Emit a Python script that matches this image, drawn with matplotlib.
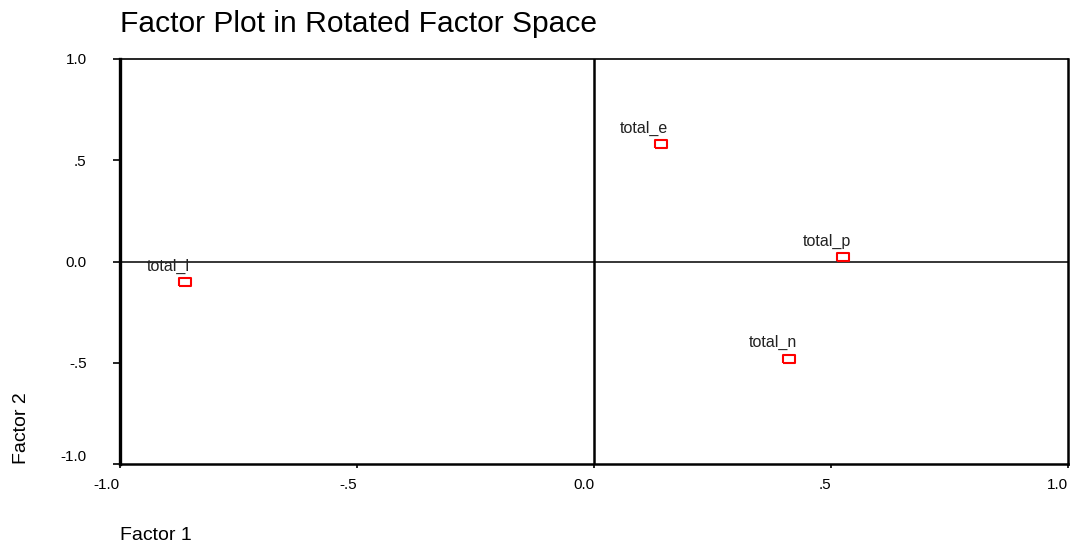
import matplotlib
matplotlib.use("Agg")
from matplotlib import pyplot as plt

plt.rcParams['font.family'] = ['Liberation Sans', 'DejaVu Sans']

names = ['total_e', 'total_p', 'total_n', 'total_l']
factor1 = [0.141, 0.526, 0.412, -0.863]
factor2 = [0.578, 0.022, -0.480, -0.102]

ticks = [-1.0, -0.5, 0.0, 0.5, 1.0]
tick_labels = ['-1.0', '-.5', '0.0', '.5', '1.0']

fig = plt.figure(figsize=(10.77, 5.47), dpi=100)
ax = fig.add_axes([120/1077, 1-464/547, (1068-120)/1077, (464-59)/547])

ax.axvline(0, color='black', lw=1.8, zorder=1)
ax.axhline(0, color='black', lw=1.1, zorder=1)

rect = [(-1, -0.6), (1, -0.6), (1, 0.6), (-1, 0.6), (-1, -0.6)]
ax.plot(factor1, factor2, ls='none', marker=rect, markersize=8.5,
        markerfacecolor='white', markeredgecolor='#ff0000', markeredgewidth=1.5, zorder=3)

for n, x, y in zip(names, factor1, factor2):
    ax.annotate(n, (x, y), xytext=(-12, 6), textcoords='offset points',
                ha='center', va='bottom', fontsize=11.5, color='#222222')

ax.set_xlim(-1, 1)
ax.set_ylim(-1, 1)
ax.set_xticks(ticks)
ax.set_xticklabels(tick_labels, ha='right')
ax.set_yticks(ticks)
ax.set_yticklabels(tick_labels)
ax.get_yticklabels()[0].set_va('bottom')
ax.tick_params(axis='x', length=3, width=1.2, pad=7, labelsize=11)
ax.tick_params(axis='y', length=5, width=1.2, pad=19, labelsize=11)

ax.spines['left'].set_linewidth(2.4)
ax.spines['bottom'].set_linewidth(1.8)
ax.spines['right'].set_linewidth(1.8)
ax.spines['top'].set_linewidth(1.2)

fig.text(120/1077, 1-24/547, 'Factor Plot in Rotated Factor Space', fontsize=21.6,
         ha='left', va='center', color='black')
fig.text(120/1077, 1-535/547, 'Factor 1', fontsize=14, ha='left', va='center')
fig.text(21/1077, 1-428/547, 'Factor 2', fontsize=14, ha='center', va='center', rotation=90)

fig.savefig('out.png', dpi=100)
